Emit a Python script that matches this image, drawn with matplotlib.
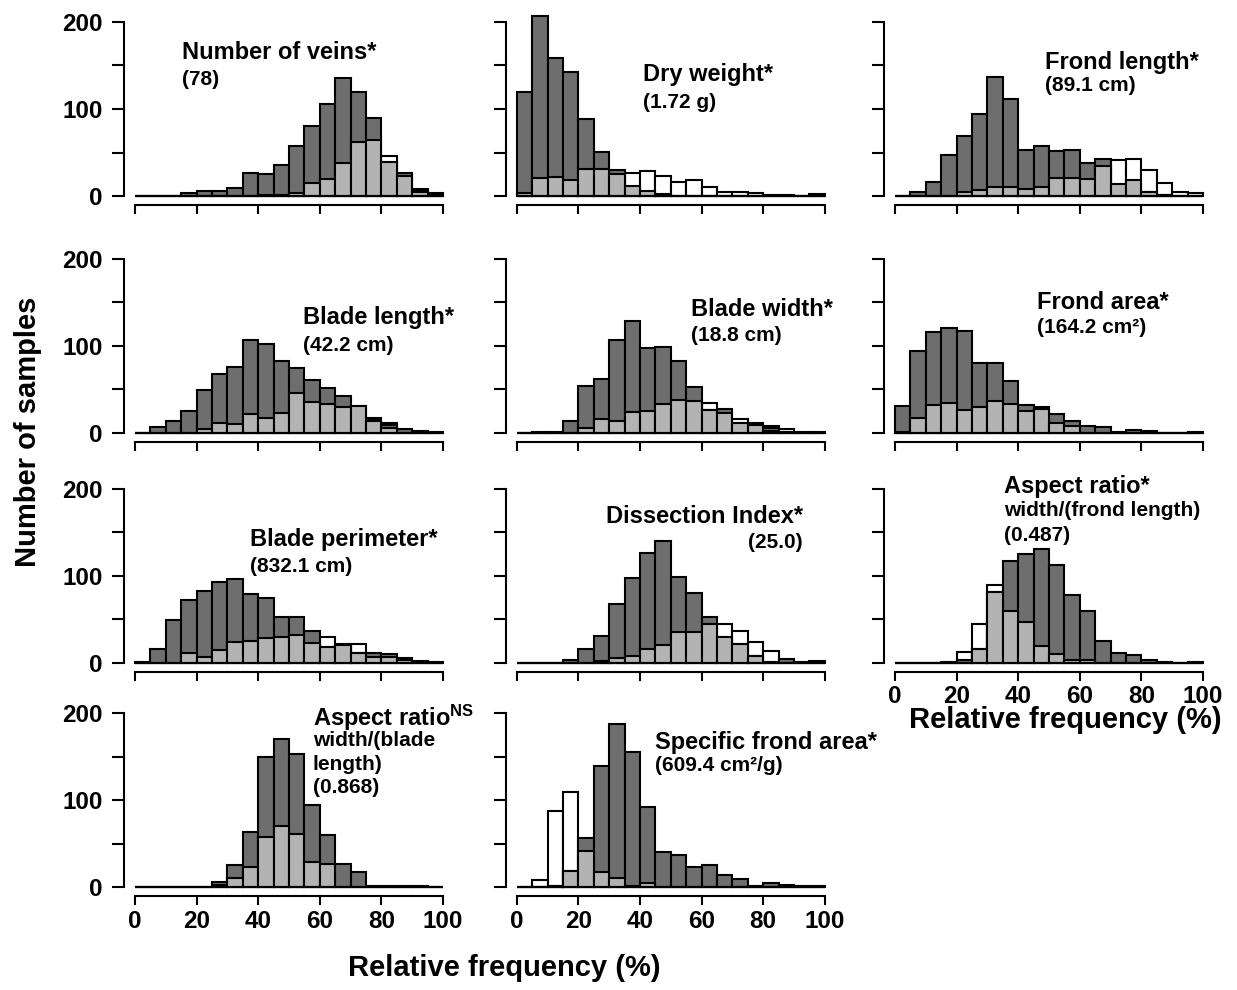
import numpy as np
import matplotlib
matplotlib.use('Agg')
import matplotlib.pyplot as plt

plt.rcParams['font.family'] = ['Liberation Sans', 'DejaVu Sans']
plt.rcParams['font.weight'] = 'bold'
plt.rcParams['mathtext.fontset'] = 'custom'
plt.rcParams['mathtext.rm'] = 'Liberation Sans:bold'
plt.rcParams['mathtext.it'] = 'Liberation Sans:bold'
plt.rcParams['mathtext.bf'] = 'Liberation Sans:bold'

## data: counts per 5% bin (0-100), three groups per trait
bin_edges = np.arange(0, 101, 5)

veins_dark = [0, 0, 0, 4, 6, 6, 9, 26, 25, 36, 57, 81, 106, 136, 120, 90, 38, 26, 6, 3]
veins_light = [0, 0, 0, 0, 0, 0, 0, 0, 1, 1, 4, 15, 20, 38, 62, 64, 39, 23, 5, 1]
veins_white = [0, 0, 0, 0, 0, 0, 0, 0, 0, 0, 0, 0, 0, 0, 0, 0, 46, 0, 8, 0]

dryw_dark = [119, 207, 159, 142, 89, 51, 30, 10, 5, 1, 0, 0, 0, 0, 0, 0, 0, 0, 0, 0]
dryw_light = [3, 21, 22, 18, 31, 31, 25, 11, 6, 2, 0, 0, 0, 0, 0, 0, 0, 0, 0, 0]
dryw_white = [0, 0, 0, 0, 0, 0, 0, 27, 29, 23, 16, 18, 10, 5, 5, 4, 1, 1, 0, 2]

frondlen_dark = [0, 5, 16, 47, 69, 94, 137, 111, 53, 58, 52, 53, 38, 43, 0, 0, 5, 1, 0, 0]
frondlen_light = [0, 0, 0, 0, 5, 7, 10, 10, 8, 10, 21, 21, 20, 34, 14, 18, 5, 1, 0, 0]
frondlen_white = [0, 0, 0, 0, 0, 0, 0, 0, 0, 0, 0, 0, 0, 0, 41, 43, 30, 15, 5, 4]

bladelen_dark = [0, 6, 13, 25, 49, 67, 76, 107, 102, 82, 74, 61, 51, 42, 31, 15, 9, 4, 2, 1]
bladelen_light = [0, 0, 0, 0, 4, 11, 10, 21, 17, 23, 46, 35, 33, 30, 31, 13, 5, 0, 0, 0]
bladelen_white = [0, 0, 0, 0, 0, 0, 0, 0, 0, 0, 0, 0, 0, 0, 0, 17, 11, 0, 0, 0]

bladew_dark = [0, 1, 1, 14, 54, 62, 107, 128, 97, 98, 82, 53, 26, 27, 11, 11, 5, 1, 1, 1]
bladew_light = [0, 0, 0, 0, 5, 16, 13, 24, 25, 33, 38, 36, 26, 23, 11, 9, 2, 0, 0, 0]
bladew_white = [0, 0, 0, 0, 0, 0, 0, 0, 0, 0, 0, 0, 34, 0, 16, 0, 8, 4, 0, 0]

frondarea_dark = [31, 94, 116, 120, 117, 80, 80, 59, 32, 29, 22, 13, 8, 6, 1, 3, 2, 0, 0, 1]
frondarea_light = [1, 17, 32, 34, 26, 30, 36, 33, 25, 27, 11, 8, 0, 0, 0, 0, 0, 0, 0, 0]
frondarea_white = [0, 0, 0, 0, 0, 0, 0, 0, 0, 0, 0, 0, 0, 0, 0, 0, 0, 0, 0, 0]

perim_dark = [1, 16, 49, 72, 82, 93, 96, 79, 74, 53, 52, 37, 18, 21, 11, 11, 10, 5, 2, 1]
perim_light = [0, 0, 0, 11, 7, 15, 24, 25, 28, 29, 32, 23, 18, 20, 11, 7, 7, 3, 1, 0]
perim_white = [0, 0, 0, 0, 0, 0, 0, 0, 0, 0, 0, 0, 30, 0, 21, 0, 0, 0, 0, 0]

dissect_dark = [0, 0, 0, 3, 16, 31, 68, 97, 126, 140, 99, 80, 52, 29, 21, 8, 1, 4, 1, 2]
dissect_light = [0, 0, 0, 0, 0, 2, 5, 8, 16, 20, 35, 35, 44, 29, 21, 8, 0, 0, 0, 0]
dissect_white = [0, 0, 0, 0, 0, 0, 0, 0, 0, 0, 0, 0, 0, 45, 37, 24, 14, 0, 0, 0]

aspf_dark = [0, 0, 0, 1, 3, 16, 81, 117, 125, 131, 112, 78, 60, 25, 11, 9, 3, 1, 0, 1]
aspf_light = [0, 0, 0, 0, 0, 16, 81, 60, 47, 19, 10, 3, 3, 0, 0, 0, 0, 0, 0, 0]
aspf_white = [0, 0, 0, 0, 12, 45, 89, 0, 0, 0, 0, 0, 0, 0, 0, 0, 0, 0, 0, 0]

aspb_dark = [0, 0, 0, 0, 0, 6, 26, 63, 150, 170, 153, 95, 60, 27, 18, 1, 1, 1, 1, 0]
aspb_light = [0, 0, 0, 0, 0, 3, 11, 23, 58, 70, 61, 29, 27, 0, 0, 0, 0, 0, 0, 0]
aspb_white = [0, 0, 0, 0, 0, 0, 0, 0, 0, 0, 0, 0, 0, 0, 0, 0, 0, 0, 0, 0]

sfa_dark = [0, 0, 2, 19, 57, 140, 188, 155, 92, 41, 37, 23, 26, 14, 9, 2, 5, 3, 1, 1]
sfa_light = [0, 0, 1, 19, 42, 18, 11, 1, 5, 0, 0, 0, 0, 0, 0, 0, 0, 0, 0, 0]
sfa_white = [0, 8, 88, 110, 0, 0, 0, 0, 0, 0, 0, 0, 0, 0, 0, 0, 0, 0, 0, 0]

## layout (pixels of a 1237x990 canvas)
W, H = 1237, 990
fig = plt.figure(figsize=(W / 100, H / 100), dpi=100, facecolor='white')

col_x0 = [135, 516.7, 895]
row_y0 = [196, 432.7, 662.7, 887.3]
xs, ys = 3.08, 0.87
xlo, xhi = -3.6, 101.5
ylo, yhi = -10.5, 215

dark_col = '#6e6e6e'
light_col = '#b3b3b3'


def px_text(x, y, s, size, **kw):
    fig.text(x / W, 1 - y / H, s, fontsize=size, fontweight='bold', **kw)


def make_panel(r, c, dark, light, white, ylabels, xlabels):
    left = col_x0[c] + xlo * xs
    right = col_x0[c] + xhi * xs
    bottom = row_y0[r] - ylo * ys
    top = row_y0[r] - yhi * ys
    ax = fig.add_axes([left / W, 1 - bottom / H, (right - left) / W, (bottom - top) / H])
    ax.set_facecolor('none')
    for vals, col in [(white, 'white'), (dark, dark_col), (light, light_col)]:
        ax.bar(bin_edges[:-1], vals, width=5, align='edge', color=col,
               edgecolor='black', linewidth=1.5)
    ax.hlines(0, 0, 100, color='black', linewidth=1.5)
    ax.set_xlim(xlo, xhi)
    ax.set_ylim(ylo, yhi)
    for s in ['top', 'right']:
        ax.spines[s].set_visible(False)
    ax.spines['left'].set_bounds(0, 200)
    ax.spines['bottom'].set_bounds(0, 100)
    ax.spines['left'].set_linewidth(1.5)
    ax.spines['bottom'].set_linewidth(1.5)
    ax.set_yticks([0, 50, 100, 150, 200])
    ax.set_xticks(np.arange(0, 101, 20))
    ax.tick_params(axis='y', length=8.5, width=1.5, pad=7, labelsize=17.5)
    ax.tick_params(axis='x', length=6.5, width=1.5, pad=3, labelsize=17.5)
    if ylabels:
        ax.set_yticklabels(['0', '', '100', '', '200'], fontweight='bold')
    else:
        ax.set_yticklabels([])
    if xlabels:
        ax.set_xticklabels([str(v) for v in range(0, 101, 20)], fontweight='bold')
    else:
        ax.set_xticklabels([])
    return ax


make_panel(0, 0, veins_dark, veins_light, veins_white, True, False)
make_panel(0, 1, dryw_dark, dryw_light, dryw_white, False, False)
make_panel(0, 2, frondlen_dark, frondlen_light, frondlen_white, False, False)
make_panel(1, 0, bladelen_dark, bladelen_light, bladelen_white, True, False)
make_panel(1, 1, bladew_dark, bladew_light, bladew_white, False, False)
make_panel(1, 2, frondarea_dark, frondarea_light, frondarea_white, False, False)
make_panel(2, 0, perim_dark, perim_light, perim_white, True, False)
make_panel(2, 1, dissect_dark, dissect_light, dissect_white, False, False)
make_panel(2, 2, aspf_dark, aspf_light, aspf_white, False, True)
make_panel(3, 0, aspb_dark, aspb_light, aspb_white, True, True)
make_panel(3, 1, sfa_dark, sfa_light, sfa_white, False, True)

## panel titles
t1, t2 = 17, 15
px_text(182, 41, 'Number of veins*', t1, va='top')
px_text(182, 70, '(78)', t2, va='top')
px_text(643, 63, 'Dry weight*', t1, va='top')
px_text(643, 93, '(1.72 g)', t2, va='top')
px_text(1045, 51, 'Frond length*', t1, va='top')
px_text(1045, 76, '(89.1 cm)', t2, va='top')
px_text(303, 306, 'Blade length*', t1, va='top')
px_text(303, 336, '(42.2 cm)', t2, va='top')
px_text(691, 298, 'Blade width*', t1, va='top')
px_text(691, 326, '(18.8 cm)', t2, va='top')
px_text(1037, 291, 'Frond area*', t1, va='top')
px_text(1037, 318, '(164.2 cm²)', t2, va='top')
px_text(250, 528, 'Blade perimeter*', t1, va='top')
px_text(250, 557, '(832.1 cm)', t2, va='top')
px_text(803, 505, 'Dissection Index*', t1, va='top', ha='right')
px_text(803, 533, '(25.0)', t2, va='top', ha='right')
px_text(1004, 475, 'Aspect ratio*', t1, va='top')
px_text(1004, 501, 'width/(frond length)', t2, va='top')
px_text(1004, 526, '(0.487)', t2, va='top')
px_text(313, 703, r'Aspect ratio$^{\mathrm{NS}}$', t1, va='top')
px_text(313, 731, 'width/(blade', t2, va='top')
px_text(313, 755, 'length)', t2, va='top')
px_text(313, 778, '(0.868)', t2, va='top')
px_text(655, 731, 'Specific frond area*', t1, va='top')
px_text(655, 756, '(609.4 cm²/g)', t2, va='top')

## axis titles
px_text(28, 432, 'Number of samples', 21, rotation=90, va='center', ha='center')
px_text(504, 968, 'Relative frequency (%)', 21, va='center', ha='center')
px_text(1065, 720, 'Relative frequency (%)', 21, va='center', ha='center')

fig.savefig('out.png', dpi=100, facecolor='white')
